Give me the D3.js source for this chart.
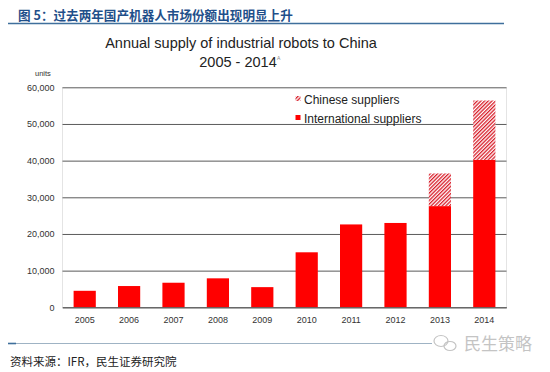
<!DOCTYPE html>
<html><head><meta charset="utf-8">
<script src="https://cdn.jsdelivr.net/npm/d3@7"></script>
<style>body{margin:0;background:#fff}svg{display:block}</style>
</head><body>
<script>
const years = ["2005","2006","2007","2008","2009","2010","2011","2012","2013","2014"];
const international = [4500, 5800, 6700, 7900, 5500, 15000, 22600, 23000, 27600, 40200];
const chinese = [0, 0, 0, 0, 0, 0, 0, 0, 8900, 16200];
const yTicks = [0, 10000, 20000, 30000, 40000, 50000, 60000];
const seriesNames = ["Chinese suppliers", "International suppliers"];

const W = 550, H = 372;
const svg = d3.select("body").append("svg").attr("width", W).attr("height", H);
const defs = svg.append("defs");
const pat = defs.append("pattern").attr("id","hatch").attr("patternUnits","userSpaceOnUse")
  .attr("width",2.6).attr("height",2.6).attr("patternTransform","rotate(45)");
pat.append("rect").attr("width",2.6).attr("height",2.6).attr("fill","#fff");
pat.append("rect").attr("width",1.3).attr("height",2.6).attr("fill","#d81e2a");

// header
svg.append("text").attr("x",18).attr("y",19.5)
  .style("font-family","'Noto Sans CJK SC'").style("font-weight","bold").style("font-size","12.6px")
  .attr("fill","#1f4f8a").text("图 5：过去两年国产机器人市场份额出现明显上升");
svg.append("line").attr("x1",8).attr("x2",504).attr("y1",23.5).attr("y2",23.5)
  .attr("stroke","#3f6f9c").attr("stroke-width",1.6);

// chart title
svg.append("text").attr("x",241).attr("y",48).attr("text-anchor","middle")
  .style("font-family","'Liberation Sans', Arial").style("font-size","14.5px").attr("fill","#222")
  .text("Annual supply of industrial robots to China");
svg.append("text").attr("x",238).attr("y",67).attr("text-anchor","middle")
  .style("font-family","'Liberation Sans', Arial").style("font-size","14.5px").attr("fill","#222")
  .text("2005 - 2014");
svg.append("text").attr("x",277).attr("y",60)
  .style("font-family","'Liberation Sans', Arial").style("font-size","5px").attr("fill","#888").text("A");

const x0 = 62.5, x1 = 506.5;
const x = d3.scaleBand().domain(years).range([x0, x1]).paddingInner(0.5).paddingOuter(0.25);
const y = d3.scaleLinear().domain([0, 60000]).range([307.3, 87.3]);

const g = svg.append("g");
// plot frame
g.append("line").attr("x1",x0).attr("x2",x0).attr("y1",y(60000)).attr("y2",y(0)).attr("stroke","#e4e4e4");
g.append("line").attr("x1",x1).attr("x2",x1).attr("y1",y(60000)).attr("y2",y(0)).attr("stroke","#e4e4e4");

const yAxis = d3.axisLeft(y).tickValues(yTicks).tickSize(-(x1-x0)).tickPadding(8)
  .tickFormat(d3.format(","));
const ya = g.append("g").attr("transform",`translate(${x0},0)`).call(yAxis);
ya.select(".domain").remove();
ya.selectAll(".tick line").attr("stroke","#5a5a5a").attr("stroke-width",1);
ya.selectAll(".tick text").style("font-family","'Liberation Sans', Arial").style("font-size","9px").attr("fill","#333");

svg.append("text").attr("x",35).attr("y",76)
  .style("font-family","'Liberation Sans', Arial").style("font-size","7.5px").attr("fill","#333").text("units");

// bars
g.selectAll("rect.intl").data(years).join("rect").attr("class","intl")
  .attr("x", d => x(d)).attr("width", x.bandwidth())
  .attr("y", (d,i) => y(international[i])).attr("height", (d,i) => y(0) - y(international[i]))
  .attr("fill","#ff0000");
g.selectAll("rect.cn").data(years.filter((d,i)=>chinese[i]>0)).join("rect").attr("class","cn")
  .attr("x", d => x(d)).attr("width", x.bandwidth())
  .attr("y", d => { const i = years.indexOf(d); return y(international[i] + chinese[i]); })
  .attr("height", d => { const i = years.indexOf(d); return y(international[i]) - y(international[i] + chinese[i]); })
  .attr("fill","url(#hatch)");

const xAxis = d3.axisBottom(x).tickSize(0).tickPadding(9);
const xa = g.append("g").attr("transform",`translate(0,${y(0)})`).call(xAxis);
xa.select(".domain").attr("stroke","#5a5a5a");
xa.selectAll(".tick text").style("font-family","'Liberation Sans', Arial").style("font-size","9px").attr("fill","#333");

// legend
const lg = svg.append("g").style("font-family","'Liberation Sans', Arial").style("font-size","12px");
lg.append("rect").attr("x",295.5).attr("y",96).attr("width",5).attr("height",5).attr("fill","url(#hatch)");
lg.append("text").attr("x",304).attr("y",104).attr("fill","#222").text(seriesNames[0]);
lg.append("rect").attr("x",295.5).attr("y",115).attr("width",5).attr("height",5).attr("fill","#ff0000");
lg.append("text").attr("x",304).attr("y",123).attr("fill","#222").text(seriesNames[1]);

// bottom rule and source
svg.append("line").attr("x1",8).attr("x2",432).attr("y1",343.5).attr("y2",343.5)
  .attr("stroke","#9fb3c4").attr("stroke-width",1);
svg.append("line").attr("x1",8).attr("x2",16).attr("y1",343.5).attr("y2",343.5)
  .attr("stroke","#3f6f9c").attr("stroke-width",1.6);
svg.append("text").attr("x",10).attr("y",366)
  .style("font-family","'Noto Sans CJK SC'").style("font-size","11.5px").attr("fill","#222")
  .text("资料来源：IFR，民生证券研究院");
// watermark
const wm = svg.append("g").attr("fill","none").attr("stroke","#c4c4c4").attr("stroke-width",1.2);
wm.append("ellipse").attr("cx",441).attr("cy",341).attr("rx",7).attr("ry",5.5);
wm.append("ellipse").attr("cx",450).attr("cy",346).attr("rx",6).attr("ry",4.5);
svg.append("text").attr("x",464).attr("y",350)
  .style("font-family","'Noto Sans CJK SC'").style("font-size","17px").attr("fill","#c4c4c4")
  .text("民生策略");
</script>
</body></html>
